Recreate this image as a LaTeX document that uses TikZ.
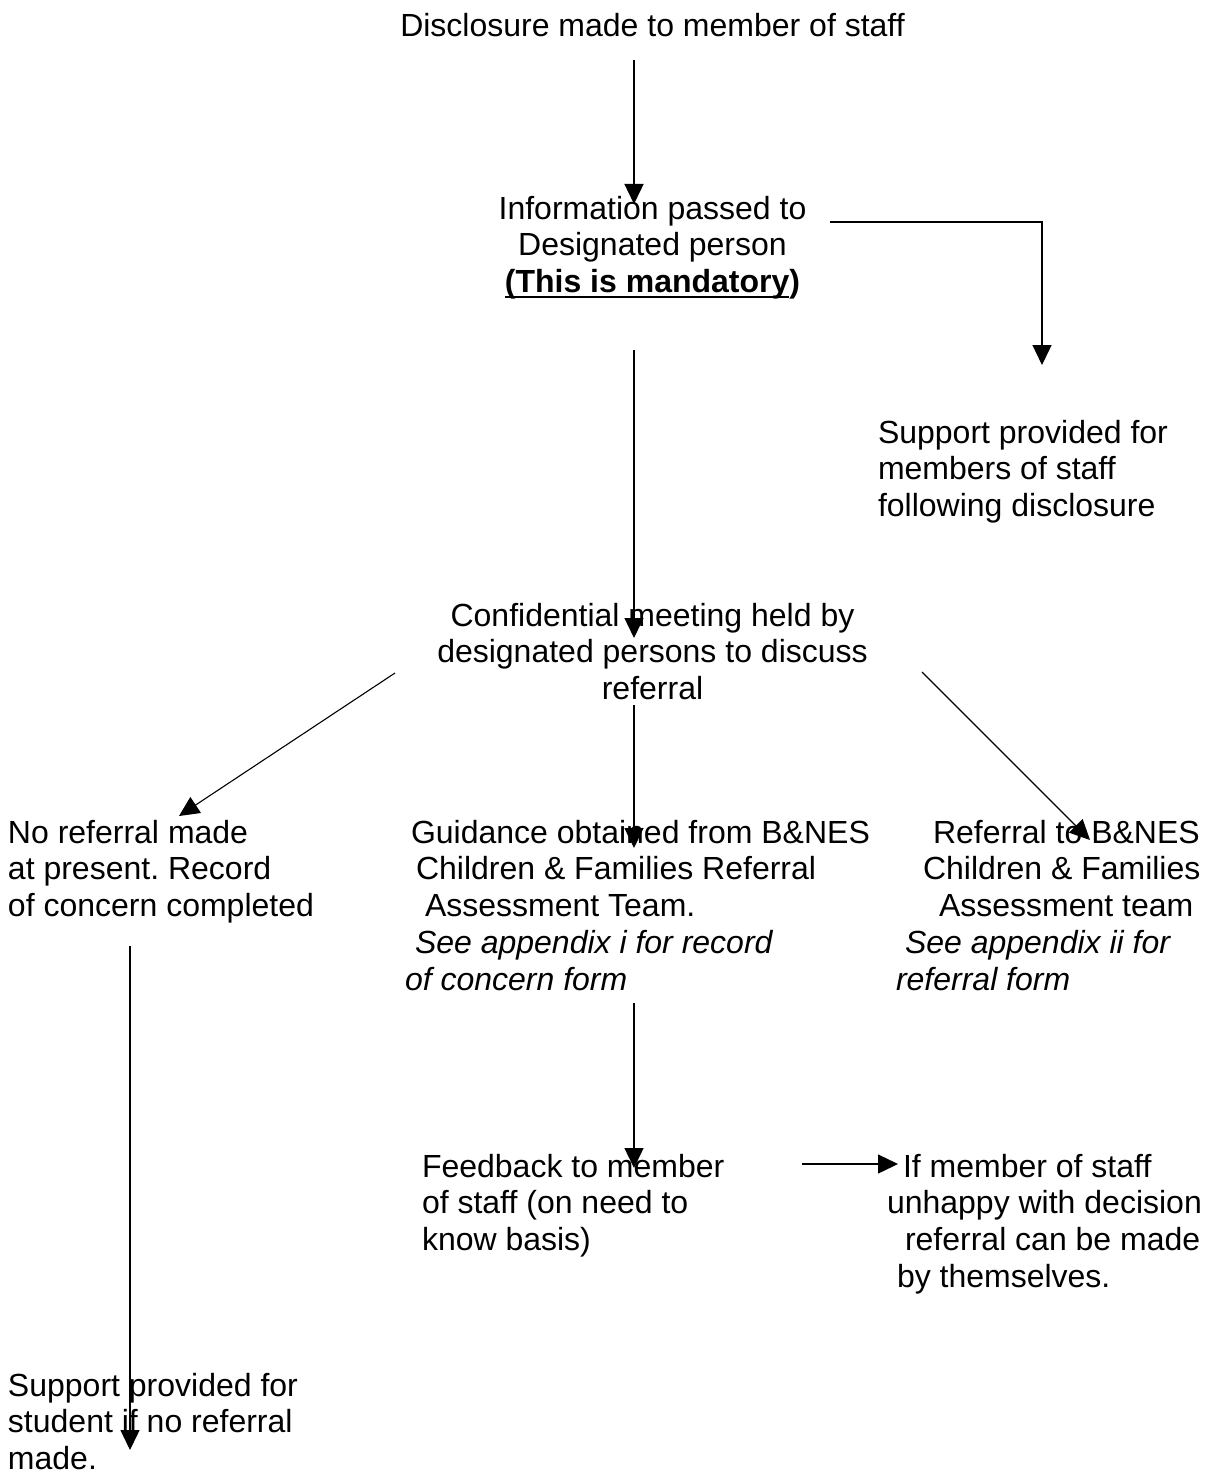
\documentclass[tikz,border=0pt]{standalone}
\usepackage{fontspec}
\setmainfont{Liberation Sans}
\usetikzlibrary{arrows.meta}
\frenchspacing
\newcommand\myul[1]{\setbox0\hbox{#1}\rlap{\rule[-5.5pt]{\wd0}{2.2pt}}\box0}
\newcommand\ind[1]{\hspace*{#1pt}}
\begin{document}
\begin{tikzpicture}[x=1pt,y=-1pt,
  txt/.style={inner sep=0pt, outer sep=0pt, font=\fontsize{32}{36.9}\selectfont, anchor=north west, align=left},
  ctxt/.style={txt, anchor=north, align=center},
  arr/.style={line width=1.4pt, -{Triangle[length=20pt,width=19pt]}},
  thinarr/.style={arr, line width=1.1pt}]
\fill[white] (0,0) rectangle (1210,1474);
\useasboundingbox (0,0) rectangle (1210,1474);

% text blocks
\node[ctxt] (disc) at (652.5,10.2) {\strut Disclosure made to member of staff};
\node[ctxt] (info) at (652.5,193.2) {\strut Information passed to\\Designated person\\\textbf{\myul{(This is mandatory})}};
\node[txt] (supstaff) at (878,417.2) {\strut Support provided for\\members of staff\\following disclosure};
\node[ctxt] (conf) at (652.5,600.2) {\strut Confidential meeting held by\\designated persons to discuss\\referral};
\node[txt] (noref) at (8,817.2) {\strut No referral made\\at present. Record\\of concern completed};
\node[txt] (guid) at (405,817.2) {\strut\ind{6}Guidance obtained from B\&NES\\\ind{11}Children \& Families Referral\\\ind{20}Assessment Team.\\\ind{10}\textit{See appendix i for record}\\\textit{of concern form}};
\node[txt] (refbn) at (896,817.2) {\strut\ind{37}Referral to B\&NES\\\ind{27}Children \& Families\\\ind{43}Assessment team\\\ind{9}\textit{See appendix ii for}\\\textit{referral form}};
\node[txt] (feed) at (422,1151.2) {\strut Feedback to member\\of staff (on need to\\know basis)};
\node[txt] (unhappy) at (887,1151.2) {\strut\ind{16}If member of staff\\unhappy with decision\\\ind{18}referral can be made\\\ind{10}by themselves.};
\node[txt] (supstu) at (8,1370.2) {\strut Support provided for\\student if no referral\\made.};

% connector end points
\coordinate (a1s) at (634,60);   \coordinate (a1e) at (634,204);
\coordinate (a2s) at (830,222);  \coordinate (a2c) at (1042,222); \coordinate (a2e) at (1042,365);
\coordinate (a3s) at (634,350);  \coordinate (a3e) at (634,638);
\coordinate (a4s) at (395,673);  \coordinate (a4e) at (179,816);
\coordinate (a5s) at (922,672);  \coordinate (a5e) at (1090,840);
\coordinate (a6s) at (634,705);  \coordinate (a6e) at (634,848);
\coordinate (a7s) at (634,1003); \coordinate (a7e) at (634,1168);
\coordinate (a8s) at (802,1164); \coordinate (a8e) at (898,1164);
\coordinate (a9s) at (130,946);  \coordinate (a9e) at (130,1450);

\draw[arr] (a1s) -- (a1e);
\draw[arr] (a2s) -- (a2c) -- (a2e);
\draw[arr] (a3s) -- (a3e);
\draw[thinarr] (a4s) -- (a4e);
\draw[thinarr] (a5s) -- (a5e);
\draw[arr] (a6s) -- (a6e);
\draw[arr] (a7s) -- (a7e);
\draw[arr] (a8s) -- (a8e);
\draw[arr] (a9s) -- (a9e);
\end{tikzpicture}
\end{document}
